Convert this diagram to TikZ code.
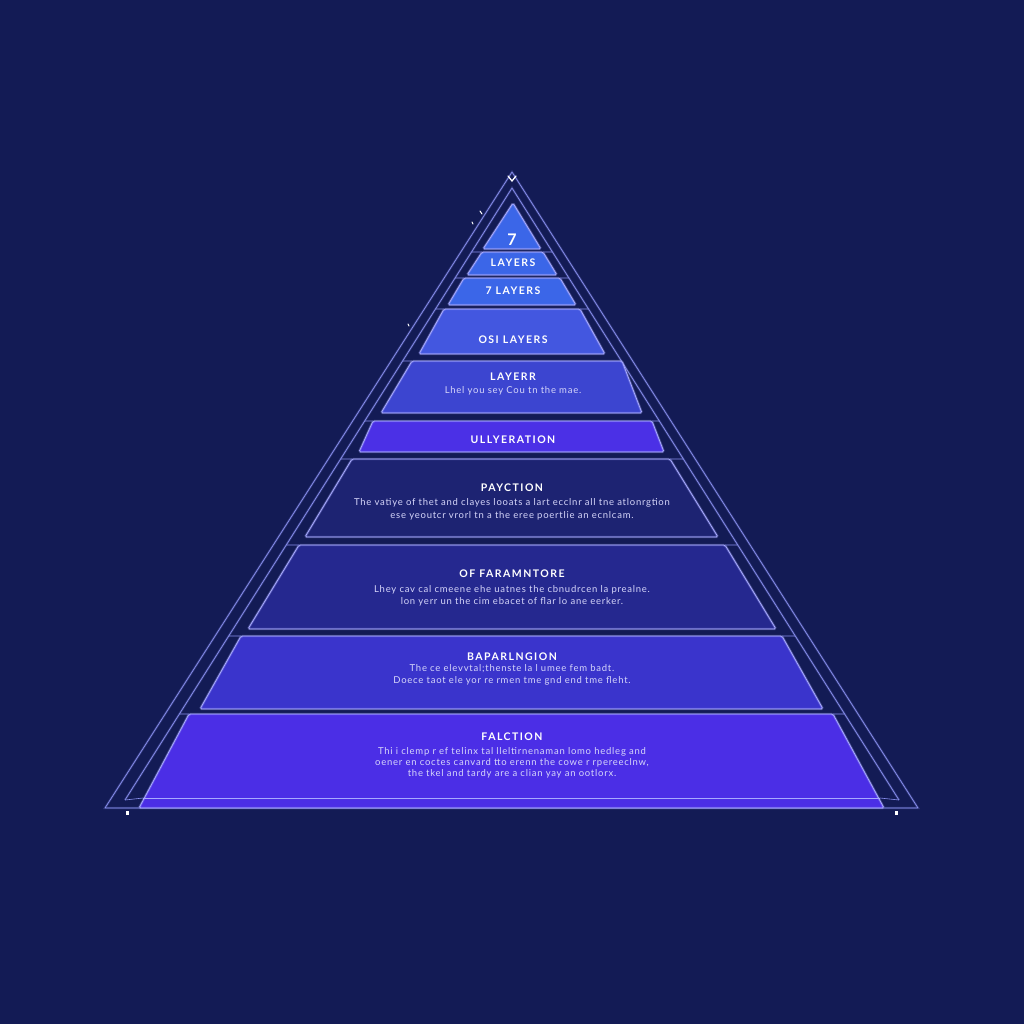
\documentclass[tikz,border=0pt]{standalone}
\usepackage{fontspec}
\setmainfont{Lato}
\newfontfamily\ttlfont{Lato}[LetterSpace=14]
\newfontfamily\bodyfont{Lato}[LetterSpace=8]
\usetikzlibrary{calc}
\definecolor{bg}{HTML}{131B55}
\definecolor{lav}{HTML}{A8AAFF}
\definecolor{framec}{HTML}{8A90F0}
\definecolor{cA}{HTML}{3B66E8}
\definecolor{cB}{HTML}{4357E0}
\definecolor{cC}{HTML}{3C45D0}
\definecolor{cD}{HTML}{4B30E6}
\definecolor{cE}{HTML}{1D2372}
\definecolor{cF}{HTML}{25288F}
\definecolor{cG}{HTML}{3A34CC}
\definecolor{cH}{HTML}{4B2EE6}
\definecolor{bodyc}{HTML}{D6D6FA}
\tikzset{
  layeredge/.style={draw=lav, line width=0.8pt, rounded corners=1.5pt,
    preaction={draw=lav, draw opacity=0.3, line width=2.4pt}},
  frameline/.style={draw=framec, line width=0.7pt, line join=round,
    preaction={draw=framec, draw opacity=0.25, line width=2.2pt}},
  tie/.style={draw=framec, line width=0.6pt},
  ttl/.style={text=white, font=\ttlfont\bfseries\fontsize{10.5}{12}\selectfont, inner sep=0pt},
  bodytxt/.style={text=bodyc, font=\bodyfont\fontsize{9.5}{12.5}\selectfont, align=center, inner sep=0pt},
}
% fill color, top y, top-left x, top-right x, bottom y, bottom-left x, bottom-right x
\newcommand\pyrlayer[7]{%
  \fill[#1, rounded corners=1.5pt] (#3,#2) -- (#4,#2) -- (#7,#5) -- (#6,#5) -- cycle;
  \path[layeredge] (#3,#2) -- (#4,#2) -- (#7,#5) -- (#6,#5) -- cycle;
  \pgfmathsetmacro\tt{(#2-188)/612}
  \draw[tie] ($(fiA)!\tt!(fiL)$) -- (#3,#2);
  \draw[tie] ($(fiA)!\tt!(fiR)$) -- (#4,#2);
}
\begin{document}
\begin{tikzpicture}[x=1pt,y=-1pt]
\fill[bg] (0,0) rectangle (1024,1024);
\useasboundingbox (0,0) rectangle (1024,1024);

% frame
\coordinate (foA) at (512,172);
\coordinate (foL) at (105,808);
\coordinate (foR) at (918,808);
\coordinate (fiA) at (512,188);
\coordinate (fiL) at (125,800);
\coordinate (fiR) at (899,800);
\path[frameline] (foL) -- (foA) -- (foR) -- cycle;
\path[frameline] (fiL) -- (fiA) -- (fiR);

% apex triangle
\fill[cA, rounded corners=1pt] (513,203) -- (541,249) -- (483,249) -- cycle;
\path[layeredge] (513,203) -- (541,249) -- (483,249) -- cycle;

\pyrlayer{cA}{252}{482}{543}{275}{467}{557}
\pyrlayer{cA}{278}{464}{560}{305}{448}{576}
\pyrlayer{cB}{309}{444}{580}{354}{419}{605}
\pyrlayer{cC}{361}{412}{622}{413}{381}{642}
\pyrlayer{cD}{421}{373}{652}{452}{359}{664}
\pyrlayer{cE}{459}{352}{670}{537}{305}{718}
\pyrlayer{cF}{545}{299}{725}{629}{248}{776}
\pyrlayer{cG}{636}{241}{782}{709}{200}{823}
\pyrlayer{cH}{714}{189}{833}{808}{139}{884}
\draw[lav, line width=0.8pt] (143,798) -- (880,798);
\draw[tie] (fiL) -- (143,798);
\draw[tie] (fiR) -- (880,798);

% marks
\draw[white, line width=1.3pt, line cap=round] (508,176) -- (512,181) -- (516,176);
\draw[white, line width=1pt, line cap=round] (480,211) -- (482,214);
\draw[white, line width=1pt, line cap=round] (472,222) -- (473,224);
\draw[white, line width=1pt, line cap=round] (408,324) -- (409,326);
\fill[white] (126,811) rectangle (129,815);
\fill[white] (895,811) rectangle (898,815);

% texts
\node[ttl, font=\ttlfont\bfseries\fontsize{16}{18}\selectfont] (t1) at (512,240) {7};
\node[ttl] (t2) at (513,263) {LAYERS};
\node[ttl] (t3) at (513,291) {7 LAYERS};
\node[ttl] (t4) at (513,340) {OSI LAYERS};
\node[ttl] (t5) at (513,377) {LAYERR};
\node[bodytxt] (b5) at (513,391) {Lhel you sey Cou tn the mae.};
\node[ttl] (t6) at (513,440) {ULLYERATION};
\node[ttl] (t7) at (512,488) {PAYCTION};
\node[bodytxt] (b7) at (512,509.5) {The vatiye of thet and clayes looats a lart ecclnr all tne atlonrgtion\\ ese yeoutcr vrorl tn a the eree poertlie an ecnlcam.};
\node[ttl] (t8) at (512,574) {OF FARAMNTORE};
\node[bodytxt] (b8) at (512,596) {Lhey cav cal cmeene ehe uatnes the cbnudrcen la prealne.\\ lon yerr un the cim ebacet of flar lo ane eerker.};
\node[ttl] (t9) at (512,657) {BAPARLNGION};
\node[bodytxt] (b9) at (512,675) {The ce elevvtal;thenste la l umee fem badt.\\ Doece taot ele yor re rmen tme gnd end tme fleht.};
\node[ttl] (t10) at (512,737) {FALCTION};
\node[bodytxt, font=\bodyfont\fontsize{9.5}{11}\selectfont] (b10) at (512,763) {Thi i clemp r ef telinx tal lleltirnenaman lomo hedleg and\\ oener en coctes canvard tto erenn the cowe r rpereeclnw,\\ the tkel and tardy are a clian yay an ootlorx.};
\end{tikzpicture}
\end{document}
